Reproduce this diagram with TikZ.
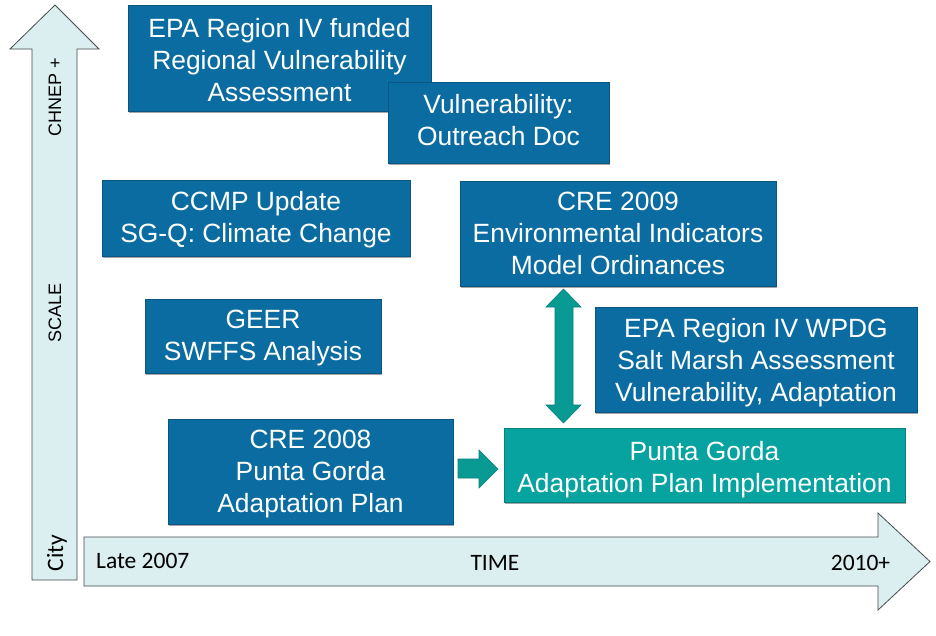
\documentclass[tikz,border=0pt]{standalone}
\usepackage{fontspec}
\setmainfont{Liberation Sans}
\newfontfamily\calibri{Carlito}
\usetikzlibrary{shadows}

\definecolor{boxblue}{RGB}{11,108,161}
\definecolor{boxedge}{RGB}{9,86,130}
\definecolor{tealbox}{RGB}{7,163,160}
\definecolor{tealedge}{RGB}{5,128,125}
\definecolor{tealarrow}{RGB}{10,154,148}
\definecolor{axisfill}{RGB}{219,238,240}
\definecolor{axisedge}{RGB}{70,75,78}

\begin{document}
\begin{tikzpicture}[x=1pt,y=-1pt,
  card/.style={fill=boxblue, draw=boxedge, line width=0.6pt, inner sep=0pt,
    drop shadow={shadow xshift=1.2pt, shadow yshift=-2pt, opacity=0.35, fill=black}},
  tealcard/.style={card, fill=tealbox, draw=tealedge},
  cardtext/.style={text=white, align=center, inner sep=0pt,
    font=\fontsize{26.4}{32}\selectfont},
  axisarrow/.style={fill=axisfill, draw=axisedge, line width=0.8pt, line join=miter},
  blockarrow/.style={fill=tealarrow, draw=tealedge, line width=0.6pt},
  axislabel/.style={inner sep=0pt, text=black, font=\calibri\fontsize{23.5}{27}\selectfont},
  scalelabel/.style={inner sep=0pt, text=black, font=\fontsize{18}{22}\selectfont, rotate=90}
]
\useasboundingbox[fill=white] (0,0) rectangle (936,635);

% scale axis (vertical) and time axis (horizontal)
\draw[axisarrow] (32,580) -- (32,49) -- (10,49) -- (55,5) -- (99,49) -- (77,49) -- (77,580) -- cycle;
\draw[axisarrow] (84,537) -- (878,537) -- (878,513) -- (930,561.5) -- (878,610) -- (878,586) -- (84,586) -- cycle;

\node[scalelabel] (chnep) at (55,97) {CHNEP +};
\node[scalelabel] (scale) at (55,313) {SCALE};
\node[axislabel, rotate=90] (city) at (57,553) {City};
\node[axislabel, anchor=west] (late) at (96,561) {Late 2007};
\node[axislabel] (time) at (495,563) {TIME};
\node[axislabel] (later) at (860.5,563) {2010+};

% project boxes, each with its caption placed on the box centre
\node[card, minimum width=303pt, minimum height=106pt] (epa) at (279.5,58) {};
\node[cardtext] (epa-t) at ([yshift=-2pt]epa.center)
  {EPA Region IV funded\\Regional Vulnerability\\Assessment};
\node[card, minimum width=221pt, minimum height=81pt] (outreach) at (498.5,122.5) {};
\node[cardtext] (outreach-t) at ([yshift=2.5pt]outreach.center)
  {Vulnerability:\\Outreach Doc};
\node[card, minimum width=308pt, minimum height=76pt] (ccmp) at (256,218) {};
\node[cardtext] (ccmp-t) at ([yshift=-2pt]ccmp.center)
  {CCMP Update\\SG-Q: Climate Change};
\node[card, minimum width=316pt, minimum height=105pt] (cre09) at (618,233.5) {};
\node[cardtext] (cre09-t) at (cre09.center)
  {CRE 2009\\Environmental Indicators\\Model Ordinances};
\node[card, minimum width=236pt, minimum height=74pt] (geer) at (263,336) {};
\node[cardtext] (geer-t) at ([yshift=-2.5pt]geer.center)
  {GEER\\SWFFS Analysis};
\node[card, minimum width=322pt, minimum height=105pt] (wpdg) at (756,359.5) {};
\node[cardtext] (wpdg-t) at ([yshift=-3pt]wpdg.center)
  {EPA Region IV WPDG\\Salt Marsh Assessment\\Vulnerability, Adaptation};
\node[card, minimum width=285pt, minimum height=105pt] (cre08) at (310.5,471.5) {};
\node[cardtext] (cre08-t) at ([yshift=-3pt]cre08.center)
  {CRE 2008\\Punta Gorda\\Adaptation Plan};
\node[tealcard, minimum width=401pt, minimum height=74pt] (impl) at (704.5,465) {};
\node[cardtext] (impl-t) at ([yshift=-4.5pt]impl.center)
  {Punta Gorda\\Adaptation Plan Implementation};

% links between boxes
\draw[blockarrow] (563.5,289) -- (581,307) -- (573,307) -- (573,405) -- (581,405)
  -- (563.5,423) -- (546,405) -- (555,405) -- (555,307) -- (546,307) -- cycle;
\draw[blockarrow] (458,459) -- (479,459) -- (479,450) -- (498,469) -- (479,488)
  -- (479,478) -- (458,478) -- cycle;
\end{tikzpicture}
\end{document}
